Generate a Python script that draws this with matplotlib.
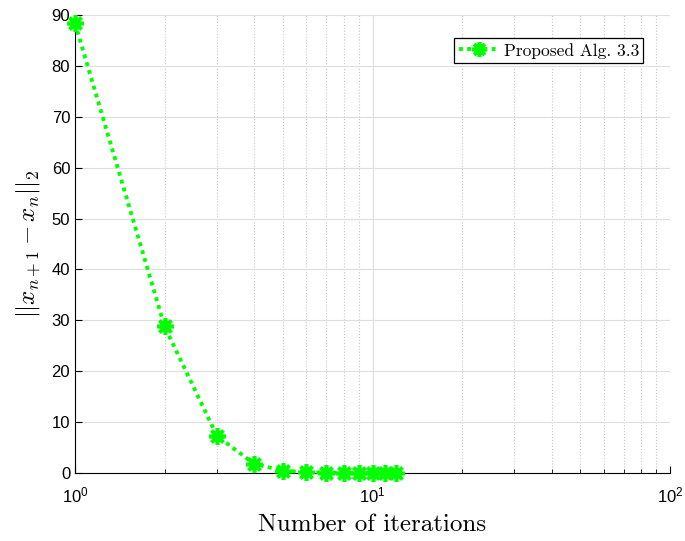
import matplotlib

matplotlib.use("Agg")
import matplotlib.pyplot as plt

iterations = [1, 2, 3, 4, 5, 6, 7, 8, 9, 10, 11, 12]
residual = [88.4, 28.8, 7.3, 1.8, 0.45, 0.15, 0.08, 0.05, 0.03, 0.02, 0.015, 0.01]

plt.rcParams["mathtext.fontset"] = "cm"
plt.rcParams["font.family"] = ["Liberation Sans", "DejaVu Sans"]
plt.rcParams["axes.unicode_minus"] = False

fig = plt.figure(figsize=(6.85, 5.41), dpi=100)
ax = fig.add_axes([75 / 685, 1 - 473 / 541, 595 / 685, 458 / 541])

ax.plot(iterations, residual, color="#00ff00", linestyle=(0, (1, 1.1)), linewidth=2.8,
        marker=(8, 2, 0), markersize=12, markeredgewidth=2.6,
        label="Proposed Alg. 3.3", clip_on=False, zorder=5)

ax.set_xscale("log")
ax.set_xlim(1, 100)
ax.set_ylim(0, 90)
ax.set_yticks(range(0, 91, 10))

ax.grid(True, which="major", color="#dedede", linewidth=0.8, linestyle="-")
ax.grid(True, which="minor", axis="x", color="#c8c8c8", linewidth=0.8, linestyle=":")
ax.set_axisbelow(True)
ax.tick_params(which="both", direction="in", labelsize=12)
ax.tick_params(axis="x", which="both", pad=9)
ax.tick_params(which="minor", length=3)
ax.tick_params(which="major", length=5)
for side in ("top", "right"):
    ax.spines[side].set_visible(False)

ax.set_xlabel("Number of iterations", fontsize=18, family="cmr10", labelpad=6)
ax.set_ylabel(r"$||x_{n+1} - x_n||_2$", fontsize=18, labelpad=6)

leg = ax.legend(loc="upper right", prop={"family": "cmr10", "size": 12.5},
                fancybox=False, edgecolor="black", framealpha=1,
                borderpad=0.25, handlelength=2.3, handletextpad=0.3,
                markerscale=0.9, bbox_to_anchor=(0.97, 0.968))
leg.get_frame().set_linewidth(0.9)

fig.savefig("out.png", dpi=100)
